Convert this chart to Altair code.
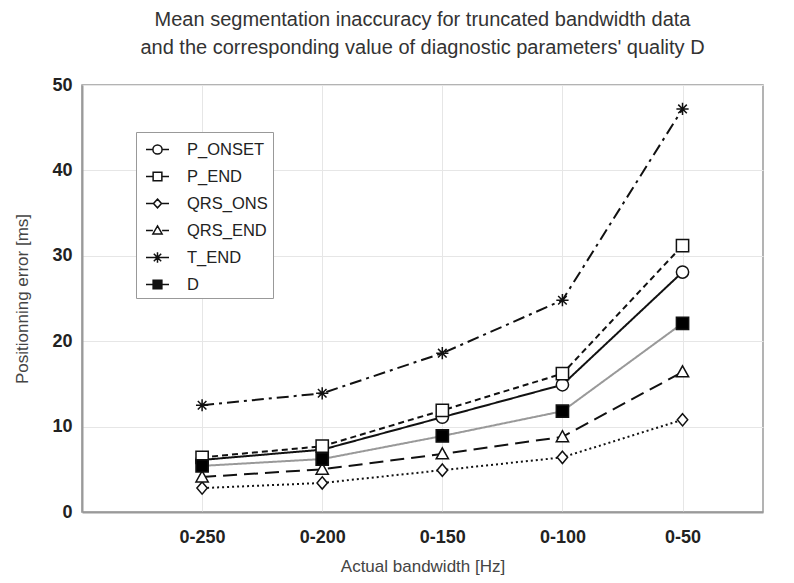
import json
import altair as alt
import pandas as pd

# ---- data ----
categories = ["0-250", "0-200", "0-150", "0-100", "0-50"]
series_names = ["P_ONSET", "P_END", "QRS_ONS", "QRS_END", "T_END", "D"]
p_onset = [6.1, 7.3, 11.1, 14.9, 28.1]
p_end = [6.4, 7.7, 11.9, 16.2, 31.2]
qrs_ons = [2.8, 3.4, 4.9, 6.4, 10.8]
qrs_end = [4.1, 5.0, 6.8, 8.8, 16.4]
t_end = [12.5, 13.9, 18.6, 24.8, 47.2]
d_quality = [5.4, 6.2, 8.9, 11.8, 22.1]

series_values = [p_onset, p_end, qrs_ons, qrs_end, t_end, d_quality]

rows = []
for name, vals in zip(series_names, series_values):
    for i, v in enumerate(vals):
        rows.append({"series": name, "pos": i + 1, "band": categories[i], "value": v})
df = pd.DataFrame(rows)

# ---- styles ----
FONT = "Liberation Sans"
marker_paths = {
    "P_ONSET": "M-1,0A1,1,0,1,0,1,0A1,1,0,1,0,-1,0Z",
    "P_END": "M-1,-1L1,-1L1,1L-1,1Z",
    "QRS_ONS": "M0,-1L0.85,0L0,1L-0.85,0Z",
    "QRS_END": "M0,-1L1,0.8L-1,0.8Z",
    "T_END": "M-1,0L1,0M0,-1L0,1M-0.7,-0.7L0.7,0.7M-0.7,0.7L0.7,-0.7",
    "D": "M-1,-1L1,-1L1,1L-1,1Z",
}
# legend symbol = short line stubs + small marker (filled square drawn with dense strokes)
hatch = "".join(f"M-0.38,{y / 100:.2f}L0.38,{y / 100:.2f}" for y in range(-38, 39, 5))
legend_paths = {
    "P_ONSET": "M-1,0L-0.4,0M0.4,0L1,0M-0.4,0A0.4,0.4,0,1,0,0.4,0A0.4,0.4,0,1,0,-0.4,0Z",
    "P_END": "M-1,0L-0.38,0M0.38,0L1,0M-0.38,-0.38L0.38,-0.38L0.38,0.38L-0.38,0.38Z",
    "QRS_ONS": "M-1,0L-0.35,0M0.35,0L1,0M0,-0.38L0.35,0L0,0.38L-0.35,0Z",
    "QRS_END": "M-1,0L-0.4,0M0.4,0L1,0M0,-0.4L0.4,0.3L-0.4,0.3Z",
    "T_END": "M-1,0L1,0M0,-0.45L0,0.45M-0.32,-0.32L0.32,0.32M-0.32,0.32L0.32,-0.32",
    "D": "M-1,0L-0.38,0M0.38,0L1,0M-0.38,-0.38L0.38,-0.38L0.38,0.38L-0.38,0.38Z" + hatch,
}

dash_range = [[1, 0], [6, 4], [2, 3], [14, 7], [12, 5, 3, 5], [1, 0]]
width_range = [2, 2, 1.5, 2, 2, 1]
color_range = ["#111", "#111", "#111", "#111", "#111", "#999999"]
fill_range = ["white", "white", "white", "white", "white", "black"]

x_enc = alt.X(
    "pos:Q",
    scale=alt.Scale(domain=[0, 5.67], nice=False, zero=False),
    axis=alt.Axis(
        values=[1, 2, 3, 4, 5],
        labelExpr=json.dumps(categories) + "[datum.value - 1]",
        title="Actual bandwidth [Hz]",
        grid=True,
        ticks=False,
        labelPadding=16,
        titlePadding=12,
    ),
)
y_enc = alt.Y(
    "value:Q",
    scale=alt.Scale(domain=[0, 50], nice=False),
    axis=alt.Axis(
        values=[0, 10, 20, 30, 40, 50],
        title="Positionning error [ms]",
        grid=True,
        ticks=False,
        labelPadding=10,
        titlePadding=20,
    ),
)

lines = alt.Chart(df).mark_line().encode(
    x=x_enc,
    y=y_enc,
    color=alt.Color("series:N", scale=alt.Scale(domain=series_names, range=color_range), legend=None),
    strokeDash=alt.StrokeDash("series:N", scale=alt.Scale(domain=series_names, range=dash_range), legend=None),
    strokeWidth=alt.StrokeWidth("series:N", scale=alt.Scale(domain=series_names, range=width_range), legend=None),
)

points = alt.Chart(df).mark_point(filled=True, stroke="#111", strokeWidth=1.5, size=150, opacity=1).encode(
    x="pos:Q",
    y="value:Q",
    shape=alt.Shape(
        "series:N",
        scale=alt.Scale(domain=series_names, range=[marker_paths[n] for n in series_names]),
        legend=None,
    ),
    fill=alt.Fill(
        "series:N",
        scale=alt.Scale(domain=series_names, range=fill_range),
        legend=None,
    ),
)

legend = alt.Legend(
    title=None,
    orient="none",
    legendX=54,
    legendY=47,
    padding=5,
    symbolOffset=4,
    labelOffset=17,
    rowPadding=6,
    symbolSize=529,
    symbolOpacity=1,
    symbolStrokeColor="#111",
    symbolStrokeWidth=1.5,
    labelFont=FONT,
    labelFontSize=16.5,
    labelColor="#222",
    strokeColor="#999",
    fillColor="white",
)

legend_layer = alt.Chart(df).mark_point(filled=False, stroke="#111", color="#111", strokeWidth=1.5, size=10, opacity=0).encode(
    x="pos:Q",
    y="value:Q",
    shape=alt.Shape(
        "series:N",
        scale=alt.Scale(domain=series_names, range=[legend_paths[n] for n in series_names]),
        legend=legend,
    ),
)

chart = (
    alt.layer(lines, points, legend_layer)
    .resolve_scale(shape="independent", fill="independent")
    .resolve_legend(shape="independent", fill="independent")
    .properties(
        width=681,
        height=427,
        background="white",
        autosize=alt.AutoSizeParams(type="none"),
        padding={"left": 74, "top": 77, "right": 23, "bottom": 63},
        title=alt.TitleParams(
            text=[
                "Mean segmentation inaccuracy for truncated bandwidth data",
                "and the corresponding value of diagnostic parameters' quality D",
            ],
            font=FONT,
            fontSize=20,
            fontWeight="normal",
            color="#333",
            lineHeight=28,
            anchor="middle",
            offset=18,
        ),
    )
    .configure_view(stroke="#9a9a9a", strokeWidth=1.5)
    .configure_axis(
        labelFont=FONT,
        labelFontSize=18,
        labelFontWeight="bold",
        labelColor="#222",
        titleFont=FONT,
        titleFontSize=17,
        titleFontWeight="normal",
        titleColor="#444",
        domainColor="#9a9a9a",
        domainWidth=2,
        gridColor="#e6e6e6",
        gridWidth=1,
    )
)

chart.save("out.html", embed_options={"renderer": "svg", "actions": False})
